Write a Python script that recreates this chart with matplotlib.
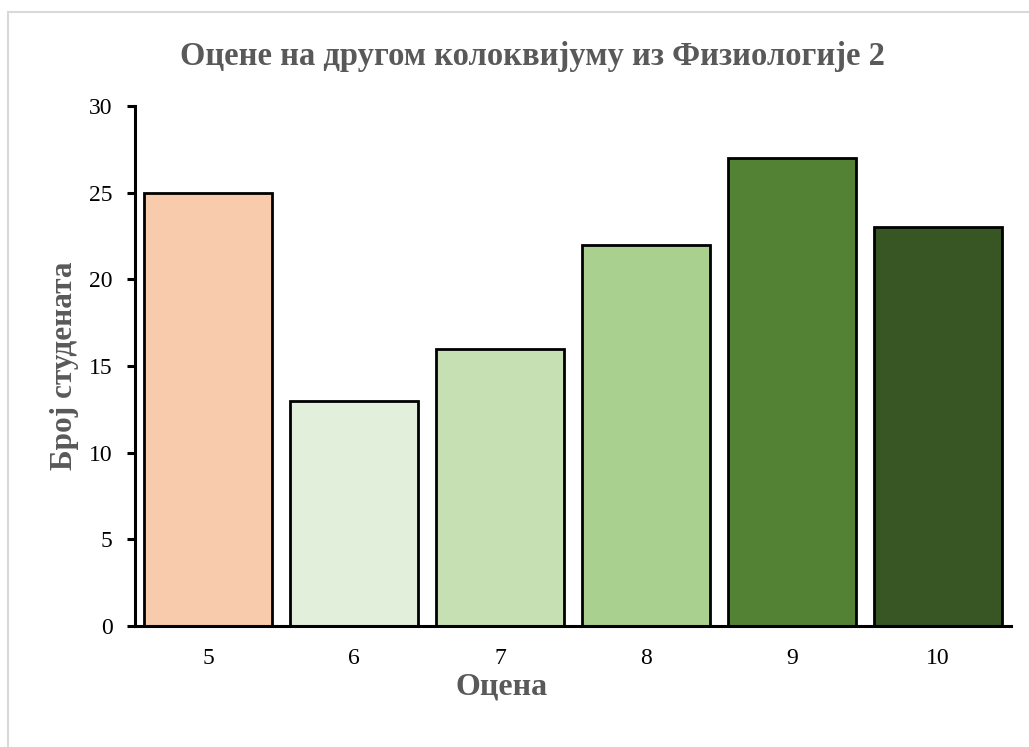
import matplotlib.pyplot as plt
from matplotlib.patches import Rectangle

# data
grades = ['5', '6', '7', '8', '9', '10']
students = [25, 13, 16, 22, 27, 23]
colors = ['#F8CBAD', '#E2EFDA', '#C6E0B4', '#A9D08E', '#548235', '#375623']

plt.rcParams['font.family'] = ['Liberation Serif', 'DejaVu Serif']

fig = plt.figure(figsize=(10.29, 7.47), dpi=100)
ax = fig.add_axes([0.1312, 0.162, 0.8513, 0.696])

# light gray frame around the chart area
fig.patches.append(Rectangle((8 / 1029, -0.05), 1.1, 1 - 12 / 747 + 0.05,
                             transform=fig.transFigure, fill=False,
                             edgecolor='#D9D9D9', linewidth=1.5))

x = range(len(grades))
ax.bar(x, students, width=0.87, color=colors, edgecolor='black', linewidth=2.0, zorder=2)

ax.set_xlim(-0.5, len(grades) - 0.5)
ax.set_ylim(0, 30)
ax.set_yticks(range(0, 31, 5))
ax.set_xticks(list(x))
ax.set_xticklabels(grades)

for s in ['top', 'right']:
    ax.spines[s].set_visible(False)
for s in ['left', 'bottom']:
    ax.spines[s].set_linewidth(2.2)
    ax.spines[s].set_zorder(3)

ax.tick_params(axis='y', direction='out', length=6, width=2.2, labelsize=17, pad=10)
ax.tick_params(axis='x', length=0, labelsize=17, pad=16)

fig.text(532 / 1029, 1 - 57 / 747, 'Оцене на другом колоквијуму из Физиологије 2',
         fontsize=23.5, fontweight='bold', color='#595959', ha='center', va='center')
ax.set_xlabel('Оцена', fontsize=23, fontweight='bold', color='#595959')
ax.xaxis.set_label_coords(0.419, -0.09)
ax.set_ylabel('Број студената', fontsize=22.5, fontweight='bold', color='#595959', labelpad=7.5)

fig.savefig('out.png', dpi=100)
